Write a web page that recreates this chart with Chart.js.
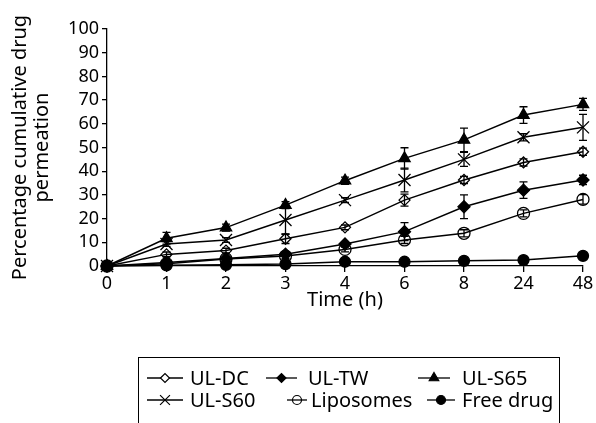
<!DOCTYPE html>
<html>
<head>
<meta charset="utf-8">
<script src="https://cdn.jsdelivr.net/npm/chart.js@4.4.0/dist/chart.umd.min.js"></script>
<style>
  body { margin: 0; background: #fff; }
  canvas { display: block; }
</style>
</head>
<body>
<canvas id="graph" width="596" height="423"></canvas>
<script>
// données
const hours = ['0', '1', '2', '3', '4', '6', '8', '24', '48'];
const yTicks = [0, 10, 20, 30, 40, 50, 60, 70, 80, 90, 100];

const ulDC = [0, 4.9, 6.5, 11.5, 16.3, 27.8, 36.3, 43.7, 48.2];
const ulDCErr = [0, 1, 1, 2, 1, 2.5, 1.5, 1.5, 1.5];
const ulTW = [0, 1.5, 3.2, 5, 9.3, 14.5, 25, 32, 36.3];
const ulTWErr = [0, 0.5, 0.5, 1, 1, 3.8, 5, 3.5, 2];
const ulS65 = [0, 11.7, 16.2, 25.7, 36, 45.4, 53.2, 63.7, 68.2];
const ulS65Err = [0, 2.5, 1.5, 1.5, 1.5, 4.5, 5, 3.5, 2.5];
const ulS60 = [0, 9.3, 11, 19.4, 27.8, 36.3, 45, 54.3, 58.5];
const ulS60Err = [0, 1, 1, 6, 1, 5, 3, 1.5, 5.5];
const liposomes = [0, 1, 3, 4.2, 7, 11, 13.8, 22.2, 28.1];
const liposomesErr = [0, 0.5, 0.5, 1, 1, 1.5, 1.5, 1.5, 2];
const freeDrug = [0, 0.3, 0.5, 0.8, 1.8, 1.8, 2.2, 2.5, 4.3];
const freeDrugErr = [0, 0, 0, 0.5, 0.3, 0.3, 0.3, 0.3, 0.3];

const FONT = '"Noto Sans", "Open Sans", sans-serif';

function serie(label, data, err, style, radius, filled) {
    return {
        label: label,
        data: data,
        err: err,
        borderColor: '#000',
        borderWidth: 1.5,
        pointStyle: style,
        pointRadius: radius,
        pointHoverRadius: radius,
        pointBackgroundColor: filled ? '#000' : 'rgba(0,0,0,0)',
        pointBorderColor: '#000',
        pointBorderWidth: 1.3,
        tension: 0,
        clip: false
    };
}

// barres d'erreur
const errorBars = {
    id: 'errorBars',
    afterDatasetsDraw(chart) {
        const ctx = chart.ctx;
        const y = chart.scales.y;
        ctx.save();
        ctx.strokeStyle = '#000';
        ctx.lineWidth = 1.3;
        chart.data.datasets.forEach((ds, di) => {
            const meta = chart.getDatasetMeta(di);
            meta.data.forEach((pt, i) => {
                const e = ds.err[i];
                if (!e) return;
                const top = y.getPixelForValue(ds.data[i] + e);
                const bot = y.getPixelForValue(ds.data[i] - e);
                ctx.beginPath();
                ctx.moveTo(pt.x, top); ctx.lineTo(pt.x, bot);
                ctx.moveTo(pt.x - 4, top); ctx.lineTo(pt.x + 4, top);
                ctx.moveTo(pt.x - 4, bot); ctx.lineTo(pt.x + 4, bot);
                ctx.stroke();
            });
        });
        ctx.restore();
    }
};

// légende façon Excel, dessinée à la main
const legendItems = [
    { ds: 0, x1: 147, x2: 183, tx: 190, row: 0, r: 4.5, fill: '#fff' },
    { ds: 1, x1: 266, x2: 297, tx: 308, row: 0, r: 4.5, fill: '#000' },
    { ds: 2, x1: 418, x2: 450, tx: 462, row: 0, r: 5.5, fill: '#000' },
    { ds: 3, x1: 147, x2: 183, tx: 190, row: 1, r: 7, fill: '#fff' },
    { ds: 4, x1: 287, x2: 307, tx: 311, row: 1, r: 4.5, fill: 'rgba(0,0,0,0)' },
    { ds: 5, x1: 427, x2: 455, tx: 462, row: 1, r: 4.5, fill: '#000' }
];
const rowsY = [378, 400];

const boxLegend = {
    id: 'boxLegend',
    afterDraw(chart) {
        const ctx = chart.ctx;
        ctx.save();
        ctx.strokeStyle = '#000';
        ctx.lineWidth = 1;
        ctx.strokeRect(138.5, 357.5, 421, 70);
        ctx.textBaseline = 'middle';
        legendItems.forEach(it => {
            const ds = chart.data.datasets[it.ds];
            const yy = rowsY[it.row];
            ctx.strokeStyle = '#000';
            ctx.lineWidth = 1.3;
            ctx.beginPath();
            ctx.moveTo(it.x1, yy); ctx.lineTo(it.x2, yy);
            ctx.stroke();
            ctx.fillStyle = it.fill;
            ctx.lineWidth = 1.2;
            Chart.helpers.drawPoint(ctx, {
                pointStyle: ds.pointStyle,
                radius: it.r,
                rotation: 0,
                borderWidth: 1.2
            }, (it.x1 + it.x2) / 2, yy);
            ctx.fillStyle = '#000';
            ctx.font = '20px ' + FONT;
            ctx.fillText(ds.label, it.tx, yy + 1);
        });
        ctx.restore();
    }
};

const ctx1 = document.getElementById('graph').getContext('2d');
const graph = new Chart(ctx1, {
    type: 'line',
    data: {
        labels: hours,
        datasets: [
            serie('UL-DC', ulDC, ulDCErr, 'rectRot', 5.5, false),
            serie('UL-TW', ulTW, ulTWErr, 'rectRot', 6, true),
            serie('UL-S65', ulS65, ulS65Err, 'triangle', 6.5, true),
            serie('UL-S60', ulS60, ulS60Err, 'crossRot', 8.5, false),
            serie('Liposomes', liposomes, liposomesErr, 'circle', 6, false),
            serie('Free drug', freeDrug, freeDrugErr, 'circle', 5.5, true)
        ]
    },
    options: {
        responsive: false,
        animation: false,
        layout: { padding: { left: 0, right: 13, top: 29, bottom: 107 } },
        plugins: {
            legend: { display: false },
            tooltip: { enabled: false }
        },
        scales: {
            x: {
                offset: false,
                grid: { drawOnChartArea: false, color: '#000', tickLength: 6, lineWidth: 1.3 },
                border: { color: '#000', width: 1.3 },
                ticks: { color: '#000', font: { family: FONT, size: 18 }, padding: 1, maxRotation: 0, autoSkip: false },
                title: { display: true, text: 'Time (h)', color: '#000', font: { family: FONT, size: 20 }, padding: { top: 0 } },
                afterFit(s) { s.height = 50; }
            },
            y: {
                min: 0,
                max: 100,
                afterBuildTicks(s) { s.ticks = yTicks.map(v => ({ value: v })); },
                grid: { drawOnChartArea: false, color: '#000', tickLength: 5, lineWidth: 1.3 },
                border: { color: '#000', width: 1.3 },
                ticks: { color: '#000', font: { family: FONT, size: 18 }, padding: 3, autoSkip: false },
                title: {
                    display: true,
                    text: ['Percentage cumulative drug', 'permeation'],
                    color: '#000',
                    font: { family: FONT, size: 20, lineHeight: 1.12 },
                    padding: { top: 9, bottom: 0 }
                },
                afterFit(s) { s.width = 107; }
            }
        }
    },
    plugins: [errorBars, boxLegend]
});
</script>
</body>
</html>
